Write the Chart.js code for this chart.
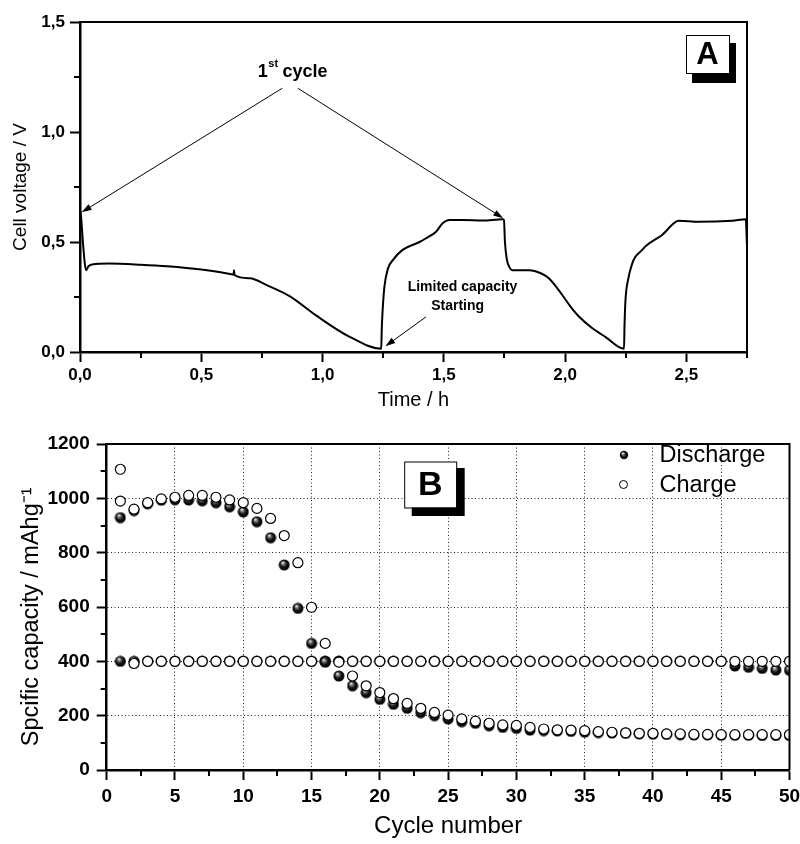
<!DOCTYPE html>
<html>
<head>
<meta charset="utf-8">
<script src="https://cdn.jsdelivr.net/npm/chart.js@4.4.1/dist/chart.umd.min.js"></script>
<style>
    html, body { margin: 0; padding: 0; background: #fff; }
    #wrapA { position: absolute; left: 0; top: 0; width: 800px; height: 412px; }
    #wrapB { position: absolute; left: 0; top: 412px; width: 800px; height: 432px; }
</style>
</head>
<body>
<div id="wrapA"><canvas id="chartA"></canvas></div>
<div id="wrapB"><canvas id="chartB"></canvas></div>
<script>
// panel A: cell voltage against time (h)
const timeH = [0.000, 0.004, 0.012, 0.020, 0.025, 0.035, 0.050, 0.120, 0.250, 0.360, 0.500, 0.630,
    0.633, 0.635, 0.637, 0.700, 0.770, 0.864, 0.975, 1.110, 1.242, 1.244, 1.247, 1.255, 1.270, 1.290,
    1.330, 1.400, 1.427, 1.468, 1.495, 1.523, 1.580, 1.660, 1.742, 1.748, 1.752, 1.760, 1.770, 1.783,
    1.852, 1.900, 1.934, 1.989, 2.020, 2.058, 2.110, 2.167, 2.243, 2.245, 2.249, 2.260, 2.277, 2.290,
    2.318, 2.330, 2.400, 2.469, 2.551, 2.690, 2.745, 2.750];
const voltage = [0.646, 0.620, 0.500, 0.400, 0.372, 0.390, 0.398, 0.402, 0.397, 0.390, 0.375, 0.352,
    0.351, 0.372, 0.350, 0.335, 0.304, 0.254, 0.165, 0.070, 0.015, 0.100, 0.175, 0.296, 0.380, 0.418,
    0.464, 0.500, 0.517, 0.547, 0.585, 0.600, 0.600, 0.598, 0.603, 0.600, 0.500, 0.420, 0.387, 0.372,
    0.372, 0.358, 0.334, 0.258, 0.210, 0.160, 0.110, 0.068, 0.015, 0.120, 0.236, 0.330, 0.403, 0.433,
    0.464, 0.479, 0.532, 0.597, 0.592, 0.597, 0.603, 0.480];

// panel B: specific capacity (mAh/g) against cycle number
const cycles = [1, 2, 3, 4, 5, 6, 7, 8, 9, 10, 11, 12, 13, 14, 15, 16, 17, 18, 19, 20, 21, 22, 23, 24, 25,
    26, 27, 28, 29, 30, 31, 32, 33, 34, 35, 36, 37, 38, 39, 40, 41, 42, 43, 44, 45, 46, 47, 48, 49, 50];
const fullDischarge = [929, 955, 980, 993, 995, 994, 991, 984, 969, 950, 914, 855, 755, 595, 466, 397, 346,
    310, 285, 260, 242, 227, 211, 200, 188, 178, 172, 163, 157, 153, 147, 145, 144, 142, 139, 138, 136,
    135, 133, 132, 131, 130, 129, 129, 128, 128, 128, 127, 127, 127];
const fullCharge = [990, 960, 984, 998, 1004, 1011, 1011, 1004, 994, 984, 963, 926, 863, 763, 599, 466, 397,
    346, 310, 285, 263, 245, 227, 212, 202, 188, 180, 172, 166, 164, 157, 151, 148, 147, 145, 141, 139,
    137, 135, 135, 133, 133, 131, 131, 130, 130, 130, 130, 130, 130];
const limitedDischarge = [400, 400, 400, 400, 400, 400, 400, 400, 400, 400, 400, 400, 400, 400, 400, 400, 400,
    400, 400, 400, 400, 400, 400, 400, 400, 400, 400, 400, 400, 400, 400, 400, 400, 400, 400, 400, 400,
    400, 400, 400, 400, 400, 400, 400, 400, 383, 378, 374, 368, 367];
const limitedCharge = [1107, 392, 400, 400, 400, 400, 400, 400, 400, 400, 400, 400, 400, 400, 400, 400, 400,
    400, 400, 400, 400, 400, 400, 400, 400, 400, 400, 400, 400, 400, 400, 400, 400, 400, 400, 400, 400,
    400, 400, 400, 400, 400, 400, 400, 400, 400, 400, 400, 400, 400];

const FONT = "'Liberation Sans', Arial, Helvetica, sans-serif";
Chart.defaults.font.family = FONT;
Chart.defaults.color = '#000';

function pairs(xs, ys) {
    return xs.map((x, i) => ({ x: x, y: ys[i] }));
}

// shaded black ball used for the discharge markers
function makeBall(r) {
    const c = document.createElement('canvas');
    const s = Math.ceil(2 * r + 1);
    c.width = s;
    c.height = s;
    const g = c.getContext('2d');
    const cx = s / 2, cy = s / 2;
    const grad = g.createRadialGradient(cx - r * 0.3, cy - r * 0.45, r * 0.05, cx, cy, r);
    grad.addColorStop(0, '#f4f4f4');
    grad.addColorStop(0.3, '#6a6a6a');
    grad.addColorStop(0.6, '#111');
    grad.addColorStop(1, '#000');
    g.fillStyle = grad;
    g.beginPath();
    g.arc(cx, cy, r, 0, Math.PI * 2);
    g.fill();
    return c;
}
const dataBall = makeBall(5.5);
const legendBall = makeBall(4.2);

function arrow(ctx, x1, y1, x2, y2) {
    const ang = Math.atan2(y2 - y1, x2 - x1);
    const L = 10, W = 3.2;
    ctx.beginPath();
    ctx.moveTo(x1, y1);
    ctx.lineTo(x2 - 6 * Math.cos(ang), y2 - 6 * Math.sin(ang));
    ctx.stroke();
    ctx.beginPath();
    ctx.moveTo(x2, y2);
    ctx.lineTo(x2 - L * Math.cos(ang) + W * Math.sin(ang), y2 - L * Math.sin(ang) - W * Math.cos(ang));
    ctx.lineTo(x2 - L * Math.cos(ang) - W * Math.sin(ang), y2 - L * Math.sin(ang) + W * Math.cos(ang));
    ctx.closePath();
    ctx.fill();
}

function shadowBox(ctx, x, y, w, h, dx, dy, text, size) {
    ctx.fillStyle = '#000';
    ctx.fillRect(x + dx, y + dy, w + 1, h + 2);
    ctx.fillStyle = '#fff';
    ctx.fillRect(x, y, w, h);
    ctx.strokeStyle = '#000';
    ctx.lineWidth = 1;
    ctx.strokeRect(x + 0.5, y + 0.5, w, h);
    ctx.fillStyle = '#000';
    ctx.font = 'bold ' + size + 'px ' + FONT;
    ctx.textAlign = 'center';
    ctx.textBaseline = 'middle';
    ctx.fillText(text, x + w / 2, y + h / 2 + 1);
}

// top/right frame and the short minor ticks
const framePlugin = {
    id: 'frame',
    afterDraw(chart, args, opts) {
        const { ctx, chartArea: a } = chart;
        const xs = chart.scales.x, ys = chart.scales.y;
        ctx.save();
        ctx.strokeStyle = '#000';
        ctx.lineWidth = opts.width;
        ctx.beginPath();
        ctx.moveTo(a.left, a.top);
        ctx.lineTo(a.right, a.top);
        ctx.lineTo(a.right, a.bottom);
        ctx.stroke();
        ctx.lineWidth = 2;
        ctx.beginPath();
        for (let v = opts.minorX; v <= xs.max + 1e-9; v += 2 * opts.minorX) {
            const px = Math.round(xs.getPixelForValue(v));
            ctx.moveTo(px, a.bottom);
            ctx.lineTo(px, a.bottom + 6);
        }
        for (let v = opts.minorY; v <= ys.max + 1e-9; v += 2 * opts.minorY) {
            const py = Math.round(ys.getPixelForValue(v));
            ctx.moveTo(a.left, py);
            ctx.lineTo(a.left - 6, py);
        }
        ctx.stroke();
        ctx.restore();
    }
};

// arrows, notes and the "A" box of panel A
const notesA = {
    id: 'notesA',
    afterDraw(chart) {
        const { ctx, chartArea: a } = chart;
        const xs = chart.scales.x, ys = chart.scales.y;
        const px = v => xs.getPixelForValue(v);
        const py = v => ys.getPixelForValue(v);
        ctx.save();
        ctx.strokeStyle = '#000';
        ctx.fillStyle = '#000';
        ctx.lineWidth = 1;
        arrow(ctx, px(0.834), py(1.199), px(0.007), py(0.635));
        arrow(ctx, px(0.898), py(1.199), px(1.745), py(0.608));
        arrow(ctx, px(1.427), py(0.160), px(1.259), py(0.026));

        // 1st cycle with superscript
        const big = 'bold 18px ' + FONT, small = 'bold 11px ' + FONT;
        ctx.font = big;
        const w1 = ctx.measureText('1').width, w3 = ctx.measureText(' cycle').width;
        ctx.font = small;
        const w2 = ctx.measureText('st').width;
        let x = px(0.877) - (w1 + w2 + w3) / 2;
        const base = py(1.252);
        ctx.textBaseline = 'alphabetic';
        ctx.textAlign = 'left';
        ctx.font = big;
        ctx.fillText('1', x, base);
        ctx.font = small;
        ctx.fillText('st', x + w1 + 0.5, base - 10);
        ctx.font = big;
        ctx.fillText(' cycle', x + w1 + w2, base);

        ctx.font = 'bold 14px ' + FONT;
        ctx.textAlign = 'center';
        ctx.fillText('Limited capacity', px(1.577), py(0.278));
        ctx.fillText('Starting', px(1.557), py(0.191));

        shadowBox(ctx, a.right - 61, a.top + 13, 43, 38, 6, 8, 'A', 31);
        ctx.restore();
    }
};

// legend and "B" box of panel B
const notesB = {
    id: 'notesB',
    afterDraw(chart) {
        const { ctx, chartArea: a } = chart;
        ctx.save();
        const shown = chart.data.datasets.filter(d => d.inLegend);
        shown.forEach((d, i) => {
            const mx = a.right - 166, my = a.top + 10.5 + i * 30;
            if (d.pointStyle === dataBall) {
                ctx.drawImage(legendBall, Math.round(mx - legendBall.width / 2), Math.round(my - legendBall.height / 2));
            } else {
                ctx.beginPath();
                ctx.arc(mx, my, 4, 0, Math.PI * 2);
                ctx.fillStyle = '#fff';
                ctx.fill();
                ctx.lineWidth = 1;
                ctx.strokeStyle = '#000';
                ctx.stroke();
            }
            ctx.fillStyle = '#000';
            ctx.font = '23.5px ' + FONT;
            ctx.textAlign = 'left';
            ctx.textBaseline = 'middle';
            ctx.fillText(d.label, mx + 36, my + 1);
        });
        shadowBox(ctx, a.left + 297.5, a.top + 17.5, 52, 46, 7.5, 6.5, 'B', 34);
        ctx.restore();
    }
};

new Chart(document.getElementById('chartA'), {
    type: 'scatter',
    data: {
        datasets: [{
            data: pairs(timeH, voltage),
            showLine: true,
            borderColor: '#000',
            borderWidth: 2,
            pointRadius: 0,
            cubicInterpolationMode: 'monotone'
        }]
    },
    options: {
        responsive: true,
        maintainAspectRatio: false,
        animation: false,
        events: [],
        layout: { padding: { left: 0, top: 22, right: 53, bottom: 0 } },
        plugins: {
            legend: { display: false },
            tooltip: { enabled: false },
            frame: { width: 2, minorX: 0.25, minorY: 0.25 }
        },
        scales: {
            x: {
                type: 'linear',
                min: 0,
                max: 2.75,
                ticks: {
                    stepSize: 0.5,
                    includeBounds: false,
                    padding: 3,
                    maxRotation: 0,
                    color: '#000',
                    font: { size: 17, weight: 'bold' },
                    callback: v => v.toFixed(1).replace('.', ',')
                },
                grid: { drawOnChartArea: false, tickLength: 10, tickWidth: 2, tickColor: '#000' },
                border: { color: '#000', width: 2.5 },
                title: { display: true, text: 'Time / h', color: '#000', font: { size: 20 }, padding: { top: 0, bottom: 0 } },
                afterFit: s => { s.height = 60; }
            },
            y: {
                type: 'linear',
                min: 0,
                max: 1.5,
                ticks: {
                    stepSize: 0.5,
                    padding: 5,
                    color: '#000',
                    font: { size: 17, weight: 'bold' },
                    callback: v => v.toFixed(1).replace('.', ',')
                },
                grid: { drawOnChartArea: false, tickLength: 10, tickWidth: 2, tickColor: '#000' },
                border: { color: '#000', width: 2.5 },
                title: { display: true, text: 'Cell voltage / V', color: '#000', font: { size: 19 }, padding: { top: 9, bottom: 0 } },
                afterFit: s => { s.width = 80; }
            }
        }
    },
    plugins: [framePlugin, notesA]
});

const openStyle = { pointStyle: 'circle', pointRadius: 5, pointBorderWidth: 1.2, pointBorderColor: '#000', pointBackgroundColor: '#fff' };
const ballStyle = { pointStyle: dataBall, pointRadius: 5.5 };

new Chart(document.getElementById('chartB'), {
    type: 'scatter',
    data: {
        datasets: [
            Object.assign({ label: 'Discharge', inLegend: true, order: 2, data: pairs(cycles, fullDischarge) }, ballStyle),
            Object.assign({ label: 'Charge', inLegend: true, order: 1, data: pairs(cycles, fullCharge) }, openStyle),
            Object.assign({ label: 'Discharge (limited)', order: 4, data: pairs(cycles, limitedDischarge) }, ballStyle),
            Object.assign({ label: 'Charge (limited)', order: 3, data: pairs(cycles, limitedCharge) }, openStyle)
        ]
    },
    options: {
        responsive: true,
        maintainAspectRatio: false,
        animation: false,
        events: [],
        layout: { padding: { left: 0, top: 32, right: 10.5, bottom: 0 } },
        plugins: {
            legend: { display: false },
            tooltip: { enabled: false },
            frame: { width: 2, minorX: 2.5, minorY: 100 }
        },
        scales: {
            x: {
                type: 'linear',
                min: 0,
                max: 50,
                ticks: {
                    stepSize: 5,
                    padding: 5,
                    maxRotation: 0,
                    autoSkip: false,
                    color: '#000',
                    font: { size: 19, weight: 'bold' },
                    callback: v => String(v)
                },
                grid: {
                    color: c => (c.tick && c.tick.value > 0 && c.tick.value < 50) ? '#222' : 'rgba(0,0,0,0)',
                    lineWidth: 1,
                    tickLength: 10,
                    tickWidth: 2,
                    tickColor: '#000'
                },
                border: { color: '#000', width: 2.5, dash: [1, 2.5] },
                title: { display: true, text: 'Cycle number', color: '#000', font: { size: 24 }, padding: { top: 0, bottom: 3 } },
                afterFit: s => {
                    s.height = 74;
                    s.paddingLeft = 0;
                    s.paddingRight = 0;
                }
            },
            y: {
                type: 'linear',
                min: 0,
                max: 1200,
                ticks: {
                    stepSize: 200,
                    padding: 7,
                    color: '#000',
                    font: { size: 19, weight: 'bold' },
                    callback: v => String(v)
                },
                grid: {
                    color: c => (c.tick && c.tick.value > 0 && c.tick.value < 1200) ? '#222' : 'rgba(0,0,0,0)',
                    lineWidth: 1,
                    tickLength: 10,
                    tickWidth: 2,
                    tickColor: '#000'
                },
                border: { color: '#000', width: 2.5, dash: [1, 2.5] },
                title: { display: true, text: 'Spcific capacity / mAhg\u207B\u00B9\u00A0\u00A0\u00A0', color: '#000', font: { size: 23.5 }, padding: { top: 17, bottom: 0 } },
                afterFit: s => { s.width = 106.7; }
            }
        }
    },
    plugins: [framePlugin, notesB]
});
</script>
</body>
</html>
